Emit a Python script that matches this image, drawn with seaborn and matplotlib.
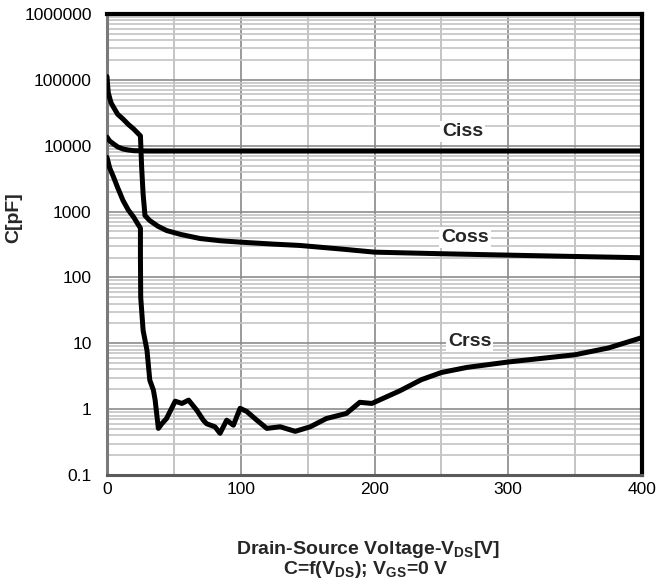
import numpy as np
import pandas as pd
import matplotlib
matplotlib.use("Agg")
import matplotlib.pyplot as plt
import seaborn as sns
from matplotlib.ticker import FixedLocator, NullFormatter

sns.set_theme(style="white")
plt.rcParams['font.family'] = ['Liberation Sans', 'DejaVu Sans']
plt.rcParams['mathtext.fontset'] = 'custom'
plt.rcParams['mathtext.rm'] = 'Liberation Sans'
plt.rcParams['mathtext.bf'] = 'Liberation Sans:bold'

# Data
ciss_v = [0, 2, 5, 8, 12, 16, 20, 30, 50, 100, 200, 300, 400]
ciss_c = [13500, 11800, 10600, 9600, 8900, 8600, 8400, 8300, 8300, 8300, 8300, 8300, 8300]

coss_v = [0, 0.5, 1, 3, 5, 8, 12, 16, 20, 25, 25.9, 27, 28.4, 32, 38, 44.6, 55, 69.5, 85, 100,
          125, 144, 175, 200, 250, 300, 350, 400]
coss_c = [112000, 80000, 63000, 45000, 38000, 30000, 25400, 21000, 17900, 14100, 4700, 1850, 870, 730,
          600, 515, 450, 390, 360, 343, 320, 306, 270, 242, 229, 218, 208, 199]

crss_v = [0, 2, 5, 8, 12, 16, 20, 23, 25, 25, 25.2, 27, 29.9, 32, 34.7, 36, 38.4, 41, 44.5, 48, 51,
          56, 61, 67, 72, 74.5, 80.7, 84.5, 89.5, 94.5, 99.5, 104.5, 112, 119.5, 129.5, 140.7,
          152, 164, 179, 189, 198, 219, 235, 250, 269, 300, 350, 375, 400]
crss_c = [6650, 4600, 3300, 2300, 1470, 1050, 820, 650, 560, 200, 50, 15.7, 7.8, 2.75, 1.94, 1.37,
          0.51, 0.6, 0.72, 1.0, 1.32, 1.22, 1.37, 0.97, 0.68, 0.6, 0.54, 0.43, 0.68, 0.57, 1.03,
          0.92, 0.68, 0.51, 0.54, 0.46, 0.54, 0.72, 0.86, 1.27, 1.22, 1.9, 2.8, 3.6, 4.3, 5.2, 6.7,
          8.5, 12.2]

series_labels = ["Ciss", "Coss", "Crss"]
label_pos_v = [266, 268, 271]
label_pos_c = [16300, 404, 10.7]

xticks = [0, 100, 200, 300, 400]
yticks = [0.1, 1, 10, 100, 1000, 10000, 100000, 1000000]
ytick_labels = ["0.1", "1", "10", "100", "1000", "10000", "100000", "1000000"]

fig = plt.figure(figsize=(6.56, 5.86), dpi=100)
ax = fig.add_axes([107/656, 1-475/586, (642-107)/656, (475-14)/586])

for v, c in [(ciss_v, ciss_c), (coss_v, coss_c), (crss_v, crss_c)]:
    sns.lineplot(x=v, y=c, ax=ax, color="black", linewidth=3.6, sort=False,
                 estimator=None, zorder=3)

ax.set_yscale("log")
ax.set_xlim(0, 400)
ax.set_ylim(0.1, 1000000)

ax.xaxis.set_major_locator(FixedLocator(xticks))
ax.xaxis.set_minor_locator(FixedLocator([50, 150, 250, 350]))
ax.set_xticklabels([str(t) for t in xticks])
ax.yaxis.set_major_locator(FixedLocator(yticks))
ax.set_yticklabels(ytick_labels)
minor_y = [m * 10.0**e for e in range(-1, 6) for m in range(2, 10)]
ax.yaxis.set_minor_locator(FixedLocator(minor_y))
ax.yaxis.set_minor_formatter(NullFormatter())

ax.grid(True, which="major", axis="y", color="#8c8c8c", linewidth=1.2, zorder=0)
ax.grid(True, which="minor", axis="y", color="#c4c4c4", linewidth=1.2, zorder=0)
ax.grid(True, which="major", axis="x", color="#9a9a9a", linewidth=1.4, zorder=0)
ax.grid(True, which="minor", axis="x", color="#c4c4c4", linewidth=1.4, zorder=0)

ax.tick_params(axis="both", which="both", length=0, labelsize=12.5, colors="black")
ax.tick_params(axis="y", pad=11)
ax.tick_params(axis="x", pad=5)

ax.spines["top"].set_color("black")
ax.spines["top"].set_linewidth(3)
ax.spines["right"].set_color("black")
ax.spines["right"].set_linewidth(3)
ax.spines["left"].set_color("#7a7a7a")
ax.spines["left"].set_linewidth(2.2)
ax.spines["bottom"].set_color("#5a5a5a")
ax.spines["bottom"].set_linewidth(2.2)

ax.set_xlabel("")
ax.set_ylabel("")

for lab, lv, lc in zip(series_labels, label_pos_v, label_pos_c):
    ax.text(lv, lc, lab, ha="center", va="center", fontsize=14, fontweight="bold",
            bbox=dict(facecolor="white", edgecolor="none", pad=1.5), zorder=4)

fig.text(14/656, 1-218/586, "C[pF]", rotation=90, ha="center", va="center",
         fontsize=14, fontweight="bold")
fig.text(368/656, 1-549/586, r"Drain-Source Voltage-V$_{\mathbf{DS}}$[V]", ha="center",
         va="center", fontsize=14, fontweight="bold")
fig.text(366/656, 1-570/586, r"C=f(V$_{\mathbf{DS}}$); V$_{\mathbf{GS}}$=0 V", ha="center",
         va="center", fontsize=14, fontweight="bold")

fig.savefig("out.png", dpi=100)
